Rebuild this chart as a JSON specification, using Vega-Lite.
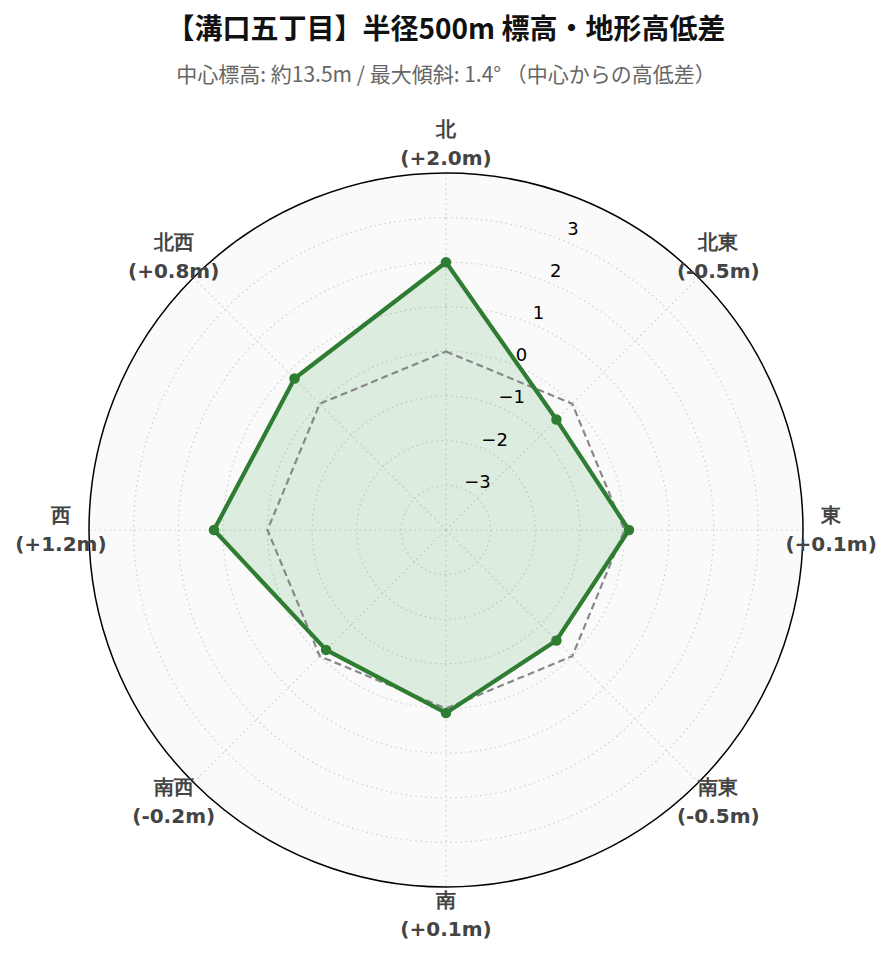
{
  "$schema": "https://vega.github.io/schema/vega-lite/v6.json",
  "autosize": {"type": "none"},
  "width": 714,
  "height": 714,
  "padding": {"left": 89, "top": 173, "right": 90, "bottom": 75},
  "background": "white",
  "config": {"view": {"stroke": null}},
  "title": {
    "text": "【溝口五丁目】半径500m 標高・地形高低差",
    "subtitle": "中心標高: 約13.5m / 最大傾斜: 1.4° （中心からの高低差）",
    "anchor": "middle",
    "font": "Noto Sans CJK JP",
    "fontSize": 28,
    "fontWeight": "bold",
    "color": "#111111",
    "subtitleFont": "Noto Sans CJK JP",
    "subtitleFontSize": 21,
    "subtitleColor": "#666666",
    "subtitlePadding": 20,
    "offset": 34
  },
  "datasets": {
    "dirs": [
      {"k": 0, "name": "北", "v": 2.0, "base": 0},
      {"k": 1, "name": "北東", "v": -0.5, "base": 0},
      {"k": 2, "name": "東", "v": 0.1, "base": 0},
      {"k": 3, "name": "南東", "v": -0.5, "base": 0},
      {"k": 4, "name": "南", "v": 0.1, "base": 0},
      {"k": 5, "name": "南西", "v": -0.2, "base": 0},
      {"k": 6, "name": "西", "v": 1.2, "base": 0},
      {"k": 7, "name": "北西", "v": 0.8, "base": 0}
    ],
    "ticks": [
      {"t": -3, "label": "−3"},
      {"t": -2, "label": "−2"},
      {"t": -1, "label": "−1"},
      {"t": 0, "label": "0"},
      {"t": 1, "label": "1"},
      {"t": 2, "label": "2"},
      {"t": 3, "label": "3"}
    ]
  },
  "layer": [
    {
      "data": {"values": [{"edge": 4}]},
      "mark": {"type": "arc", "theta": 0, "theta2": 6.2832, "fill": "#fafafa", "stroke": null},
      "encoding": {
        "radius": {"field": "edge", "type": "quantitative", "stack": null, "scale": {"type": "linear", "domain": [-4, 4], "range": [0, 357], "zero": false}, "legend": null},
        "radius2": {"datum": -4}
      }
    },
    {
      "data": {"name": "ticks"},
      "mark": {"type": "arc", "theta": 0, "theta2": 6.2832, "fill": null, "filled": false, "stroke": "#cfcfcf", "strokeWidth": 1.2, "strokeDash": [1.5, 3.5]},
      "encoding": {
        "radius": {"field": "t", "type": "quantitative", "stack": null, "scale": {"type": "linear", "domain": [-4, 4], "range": [0, 357], "zero": false}, "legend": null},
        "radius2": {"datum": -4}
      }
    },
    {
      "data": {"name": "dirs"},
      "transform": [
        {"calculate": "datum.k * PI / 4", "as": "a"},
        {"calculate": "8 * sin(datum.a)", "as": "sx"},
        {"calculate": "8 * cos(datum.a)", "as": "sy"},
        {"calculate": "0", "as": "c"}
      ],
      "mark": {"type": "rule", "stroke": "#cfcfcf", "strokeWidth": 1.2, "strokeDash": [1.5, 3.5]},
      "encoding": {
        "x": {"field": "c", "type": "quantitative", "scale": {"domain": [-8, 8], "nice": false, "zero": false}, "axis": null},
        "y": {"field": "c", "type": "quantitative", "scale": {"domain": [-8, 8], "nice": false, "zero": false}, "axis": null},
        "x2": {"field": "sx"},
        "y2": {"field": "sy"}
      }
    },
    {
      "data": {"name": "dirs"},
      "transform": [
        {"calculate": "datum.k * PI / 4", "as": "a"},
        {"calculate": "(datum.v + 4) * sin(datum.a)", "as": "px"},
        {"calculate": "(datum.v + 4) * cos(datum.a)", "as": "py"}
      ],
      "mark": {"type": "line", "interpolate": "linear-closed", "fill": "#2e9d3a", "fillOpacity": 0.14, "stroke": null},
      "encoding": {
        "x": {"field": "px", "type": "quantitative"},
        "y": {"field": "py", "type": "quantitative"},
        "order": {"field": "k", "type": "quantitative"}
      }
    },
    {
      "data": {"name": "dirs"},
      "transform": [
        {"calculate": "datum.k * PI / 4", "as": "a"},
        {"calculate": "(datum.base + 4) * sin(datum.a)", "as": "bx"},
        {"calculate": "(datum.base + 4) * cos(datum.a)", "as": "by"}
      ],
      "mark": {"type": "line", "interpolate": "linear-closed", "stroke": "#888888", "strokeWidth": 2.2, "strokeDash": [7, 4]},
      "encoding": {
        "x": {"field": "bx", "type": "quantitative"},
        "y": {"field": "by", "type": "quantitative"},
        "order": {"field": "k", "type": "quantitative"}
      }
    },
    {
      "data": {"name": "dirs"},
      "transform": [
        {"calculate": "datum.k * PI / 4", "as": "a"},
        {"calculate": "(datum.v + 4) * sin(datum.a)", "as": "px"},
        {"calculate": "(datum.v + 4) * cos(datum.a)", "as": "py"}
      ],
      "mark": {"type": "line", "interpolate": "linear-closed", "stroke": "#2e7d32", "strokeWidth": 4.2, "strokeJoin": "round"},
      "encoding": {
        "x": {"field": "px", "type": "quantitative"},
        "y": {"field": "py", "type": "quantitative"},
        "order": {"field": "k", "type": "quantitative"}
      }
    },
    {
      "data": {"name": "dirs"},
      "transform": [
        {"calculate": "datum.k * PI / 4", "as": "a"},
        {"calculate": "(datum.v + 4) * sin(datum.a)", "as": "px"},
        {"calculate": "(datum.v + 4) * cos(datum.a)", "as": "py"}
      ],
      "mark": {"type": "point", "filled": true, "color": "#2e7d32", "size": 110, "opacity": 1},
      "encoding": {
        "x": {"field": "px", "type": "quantitative"},
        "y": {"field": "py", "type": "quantitative"}
      }
    },
    {
      "data": {"values": [{"edge": 4}]},
      "mark": {"type": "arc", "theta": 0, "theta2": 6.2832, "fill": null, "filled": false, "stroke": "#000000", "strokeWidth": 1.5},
      "encoding": {
        "radius": {"field": "edge", "type": "quantitative", "stack": null, "scale": {"type": "linear", "domain": [-4, 4], "range": [0, 357], "zero": false}, "legend": null},
        "radius2": {"datum": -4}
      }
    },
    {
      "data": {"name": "ticks"},
      "transform": [
        {"calculate": "(datum.t + 4) * 0.3848", "as": "tx"},
        {"calculate": "(datum.t + 4) * 0.945", "as": "ty"}
      ],
      "mark": {"type": "text", "font": "DejaVu Sans", "fontSize": 18, "color": "#000000", "align": "left", "baseline": "middle", "dx": 1, "dy": -5},
      "encoding": {
        "x": {"field": "tx", "type": "quantitative"},
        "y": {"field": "ty", "type": "quantitative"},
        "text": {"field": "label"}
      }
    },
    {
      "data": {"name": "dirs"},
      "transform": [
        {"calculate": "datum.k * PI / 4", "as": "a"},
        {"calculate": "8.63 * sin(datum.a)", "as": "lx"},
        {"calculate": "8.63 * cos(datum.a)", "as": "ly"},
        {"calculate": "datum.name + '\\n(' + (datum.v < 0 ? '-' : '+') + format(abs(datum.v), '.1f') + 'm)'", "as": "lab"}
      ],
      "mark": {"type": "text", "font": "DejaVu Sans", "fontSize": 20, "fontWeight": "bold", "color": "#444444", "align": "center", "baseline": "middle", "lineBreak": "\n", "lineHeight": 29, "dy": -14.5},
      "encoding": {
        "x": {"field": "lx", "type": "quantitative"},
        "y": {"field": "ly", "type": "quantitative"},
        "text": {"field": "lab"}
      }
    }
  ]
}
